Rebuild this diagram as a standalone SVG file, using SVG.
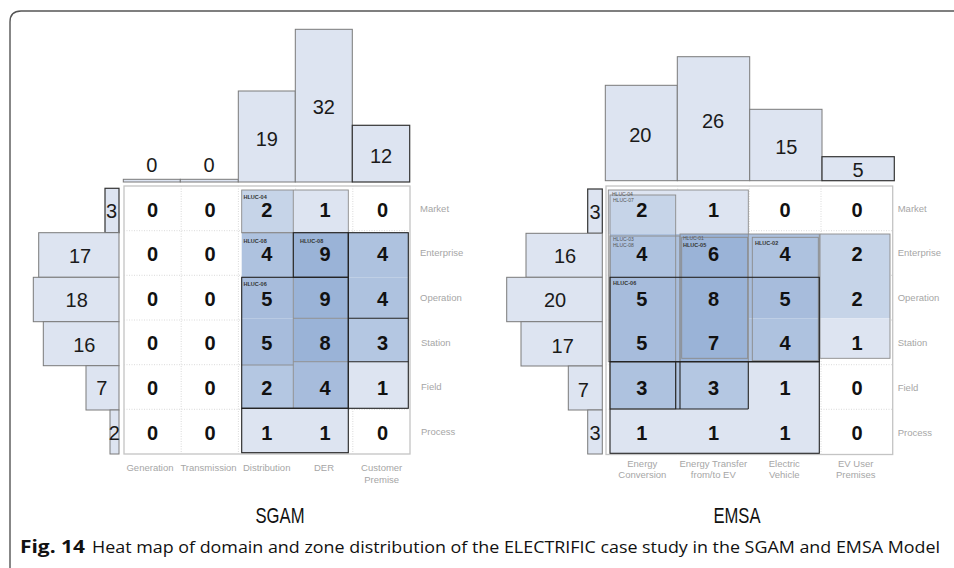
<svg xmlns="http://www.w3.org/2000/svg" width="954" height="568" viewBox="0 0 954 568">
  <style>
    .bar { fill: #dde4f1; stroke: #7a7a7a; stroke-width: 1; }
    .bar-dark { fill: #dde4f1; stroke: #333; stroke-width: 1.2; }
    .barlbl { font-family: "Liberation Sans", Arial, sans-serif; font-size: 20px; fill: #1a1a1a; text-anchor: middle; }
    .num { font-family: "Liberation Sans", Arial, sans-serif; font-size: 20px; font-weight: bold; fill: #111; text-anchor: middle; }
    .axis { font-family: "Liberation Sans", Arial, sans-serif; font-size: 9.5px; fill: #a6a6a6; }
    .axis-c { font-family: "Liberation Sans", Arial, sans-serif; font-size: 9.5px; fill: #a6a6a6; text-anchor: middle; }
    .tag { font-family: "Liberation Sans", Arial, sans-serif; font-size: 5.5px; font-weight: bold; fill: #333; }
    .tag-faint { font-family: "Liberation Sans", Arial, sans-serif; font-size: 5px; fill: #555; }
    .grid { fill: #fff; stroke: #c4c4c4; stroke-width: 1.3; }
    .dot { stroke: #d0d0d0; stroke-width: 0.8; stroke-dasharray: 1 1.5; fill: none; }
    .ol-g { fill: none; stroke: #8a8a8a; stroke-width: 0.9; }
    .ol-k { fill: none; stroke: #222; stroke-width: 1.1; }
    .title { font-family: "Liberation Sans", Arial, sans-serif; font-size: 22px; fill: #111; text-anchor: middle; }
    .cap { font-family: "Open Sans", "Liberation Sans", sans-serif; font-size: 17px; fill: #111; }
    .c1 { fill: #dde4f1; }
    .c2 { fill: #c6d4e8; }
    .c3 { fill: #b4c7e2; }
    .c4 { fill: #aec2df; }
    .c5 { fill: #a7bcdc; }
    .c8 { fill: #9ab3d7; }
  </style>

  <!-- figure frame (open to the right and bottom) -->
  <path d="M10,568 V22 Q10,11 21,11 H954" fill="none" stroke="#555" stroke-width="1.4"/>

  <!-- ================= SGAM ================= -->
  <g id="sgam">
    <!-- domain totals -->
    <g id="sgam-domain-bars">
      <rect class="bar" x="123.3" y="179.3" width="57" height="2.7"/>
      <rect class="bar" x="180.3" y="179.3" width="58" height="2.7"/>
      <rect class="bar" x="238.3" y="91" width="57" height="91"/>
      <rect class="bar" x="295.3" y="29.3" width="57" height="152.7"/>
      <rect class="bar-dark" x="352.3" y="125.3" width="57.4" height="56.7"/>
      <text class="barlbl" x="151.7" y="171.7">0</text>
      <text class="barlbl" x="209" y="171.7">0</text>
      <text class="barlbl" x="266.8" y="145.7">19</text>
      <text class="barlbl" x="323.8" y="114">32</text>
      <text class="barlbl" x="381" y="163.3">12</text>
    </g>
    <!-- zone totals -->
    <g id="sgam-zone-bars">
      <rect class="bar-dark" x="105" y="188.3" width="14" height="44.4"/>
      <rect class="bar" x="38.7" y="232.7" width="80.3" height="44.6"/>
      <rect class="bar" x="33.3" y="277.3" width="85.7" height="44.4"/>
      <rect class="bar" x="43.3" y="321.7" width="75.7" height="44"/>
      <rect class="bar" x="86" y="365.7" width="33" height="44.3"/>
      <rect class="bar" x="110" y="410" width="9" height="44"/>
      <text class="barlbl" x="111.5" y="218.3">3</text>
      <text class="barlbl" x="80" y="262.7">17</text>
      <text class="barlbl" x="76.7" y="306.7">18</text>
      <text class="barlbl" x="84.3" y="351.7">16</text>
      <text class="barlbl" x="101.7" y="395">7</text>
      <text class="barlbl" x="114.3" y="440">2</text>
    </g>
    <!-- plane grid -->
    <g id="sgam-grid">
      <rect class="grid" x="124" y="186" width="286" height="268"/>
      <path class="dot" d="M181.2,186V454M238.4,186V454M295.6,186V454M352.8,186V454M124,230.7H410M124,275.3H410M124,320H410M124,364.7H410M124,409.3H410"/>
    </g>
    <!-- heat cells -->
    <g id="sgam-heat">
      <rect class="c2" x="241.7" y="190" width="51.6" height="42.7"/>
      <rect class="c1" x="293.3" y="190" width="55" height="42.7"/>
      <rect class="c4" x="241.7" y="232.7" width="51.6" height="44.6"/>
      <rect class="c8" x="293.3" y="232.7" width="55" height="44.6"/>
      <rect class="c4" x="348.3" y="232.7" width="60" height="44.6"/>
      <rect class="c5" x="241.7" y="277.3" width="51.6" height="41"/>
      <rect class="c8" x="293.3" y="277.3" width="55" height="41"/>
      <rect class="c4" x="348.3" y="277.3" width="60" height="41"/>
      <rect class="c5" x="241.7" y="318.3" width="51.6" height="46.7"/>
      <rect class="c8" x="293.3" y="318.3" width="55" height="43.4"/>
      <rect class="c3" x="348.3" y="318.3" width="60" height="43.4"/>
      <rect class="c3" x="241.7" y="365" width="51.6" height="43.3"/>
      <rect class="c5" x="293.3" y="361.7" width="55" height="46.6"/>
      <rect class="c1" x="348.3" y="361.7" width="60" height="46.6"/>
      <rect class="c1" x="241.7" y="408.3" width="106.6" height="44.4"/>
      <!-- use-case outlines -->
      <rect class="ol-g" x="241.7" y="190" width="106.6" height="42.7"/>
      <path class="ol-g" d="M293.3,190V408.3M241.7,232.7H293.3M293.3,318.3H348.3M293.3,361.7H348.3M241.7,365H293.3"/>
      <rect class="ol-k" x="293.3" y="232.7" width="55" height="44.6"/>
      <rect class="ol-k" x="348.3" y="232.7" width="60" height="175.6"/>
      <path class="ol-k" d="M348.3,318.3H408.3M348.3,361.7H408.3"/>
      <rect class="ol-k" x="241.7" y="277.3" width="106.6" height="131"/>
      <rect class="ol-k" x="241.7" y="408.3" width="106.6" height="44.4"/>
      <text class="tag" x="243.5" y="198.5">HLUC-04</text>
      <text class="tag" x="243.5" y="242.5">HLUC-08</text>
      <text class="tag" x="300" y="242.5">HLUC-08</text>
      <text class="tag" x="243.5" y="286">HLUC-06</text>
    </g>
    <!-- cell counts -->
    <g id="sgam-counts">
      <text class="num" x="152.5" y="216.5">0</text><text class="num" x="210" y="216.5">0</text><text class="num" x="266.7" y="216.5">2</text><text class="num" x="325" y="216.5">1</text><text class="num" x="382.5" y="216.5">0</text>
      <text class="num" x="152.5" y="261">0</text><text class="num" x="210" y="261">0</text><text class="num" x="266.7" y="261">4</text><text class="num" x="325" y="261">9</text><text class="num" x="382.5" y="261">4</text>
      <text class="num" x="152.5" y="305.7">0</text><text class="num" x="210" y="305.7">0</text><text class="num" x="266.7" y="305.7">5</text><text class="num" x="325" y="305.7">9</text><text class="num" x="382.5" y="305.7">4</text>
      <text class="num" x="152.5" y="350.3">0</text><text class="num" x="210" y="350.3">0</text><text class="num" x="266.7" y="350.3">5</text><text class="num" x="325" y="350.3">8</text><text class="num" x="382.5" y="350.3">3</text>
      <text class="num" x="152.5" y="395">0</text><text class="num" x="210" y="395">0</text><text class="num" x="266.7" y="395">2</text><text class="num" x="325" y="395">4</text><text class="num" x="382.5" y="395">1</text>
      <text class="num" x="152.5" y="440">0</text><text class="num" x="210" y="440">0</text><text class="num" x="266.7" y="440">1</text><text class="num" x="325" y="440">1</text><text class="num" x="382.5" y="440">0</text>
    </g>
    <!-- axis labels -->
    <g id="sgam-axes">
      <text class="axis" x="420" y="211.5">Market</text>
      <text class="axis" x="420" y="256">Enterprise</text>
      <text class="axis" x="420" y="300.5">Operation</text>
      <text class="axis" x="421" y="345.5">Station</text>
      <text class="axis" x="421" y="390">Field</text>
      <text class="axis" x="421" y="435">Process</text>
      <text class="axis-c" x="150" y="470.8">Generation</text>
      <text class="axis-c" x="208.5" y="470.8">Transmission</text>
      <text class="axis-c" x="266.7" y="470.8">Distribution</text>
      <text class="axis-c" x="324" y="470.8">DER</text>
      <text class="axis-c" x="381.7" y="470.8">Customer</text>
      <text class="axis-c" x="381.7" y="483">Premise</text>
    </g>
    <text class="title" x="280" y="523" textLength="49" lengthAdjust="spacingAndGlyphs">SGAM</text>
  </g>

  <!-- ================= EMSA ================= -->
  <g id="emsa">
    <g id="emsa-domain-bars">
      <rect class="bar" x="605.3" y="85.3" width="72" height="95.4"/>
      <rect class="bar" x="677.3" y="56.7" width="72.4" height="124"/>
      <rect class="bar" x="749.7" y="109.3" width="72.3" height="71.4"/>
      <rect class="bar-dark" x="822" y="156.7" width="72.3" height="24"/>
      <text class="barlbl" x="640.3" y="141.7">20</text>
      <text class="barlbl" x="713" y="127.7">26</text>
      <text class="barlbl" x="786.3" y="154">15</text>
      <text class="barlbl" x="858" y="177.3">5</text>
    </g>
    <g id="emsa-zone-bars">
      <rect class="bar-dark" x="587.7" y="189" width="14.6" height="44.3"/>
      <rect class="bar" x="526" y="233.3" width="76.3" height="44"/>
      <rect class="bar" x="506.7" y="277.3" width="95.6" height="44.4"/>
      <rect class="bar" x="521" y="321.7" width="81.3" height="44.3"/>
      <rect class="bar" x="568.3" y="366" width="34" height="44"/>
      <rect class="bar" x="587.7" y="410" width="14.6" height="44"/>
      <text class="barlbl" x="595" y="218.5">3</text>
      <text class="barlbl" x="565" y="263.3">16</text>
      <text class="barlbl" x="555" y="307.3">20</text>
      <text class="barlbl" x="562.7" y="352.7">17</text>
      <text class="barlbl" x="583.3" y="396.7">7</text>
      <text class="barlbl" x="595" y="440">3</text>
    </g>
    <g id="emsa-grid">
      <rect class="grid" x="606" y="186" width="286.7" height="268.5"/>
      <path class="dot" d="M677.7,186V454.5M749.3,186V454.5M821,186V454.5M606,230.7H892.7M606,275.3H892.7M606,320H892.7M606,364.7H892.7M606,409.3H892.7"/>
    </g>
    <g id="emsa-heat">
      <rect class="c1" x="608.3" y="190" width="140" height="44"/>
      <rect class="c2" x="610" y="195" width="65.7" height="39"/>
      <rect class="c4" x="610" y="234" width="70" height="43.3"/>
      <rect class="c8" x="680" y="234" width="68.3" height="43.3"/>
      <rect class="c4" x="748.3" y="234" width="71" height="43.3"/>
      <rect class="c2" x="820" y="234" width="70" height="84.3"/>
      <rect class="c5" x="610" y="277.3" width="70" height="84.4"/>
      <rect class="c8" x="680" y="277.3" width="68.3" height="84.4"/>
      <rect class="c5" x="748.3" y="277.3" width="71" height="41"/>
      <rect class="c4" x="748.3" y="318.3" width="71" height="43.4"/>
      <rect class="c1" x="820" y="318.3" width="70" height="40"/>
      <rect class="c4" x="610" y="361.7" width="70" height="47.3"/>
      <rect class="c3" x="680" y="361.7" width="68.3" height="47.3"/>
      <rect class="c1" x="748.3" y="361.7" width="71" height="47.3"/>
      <rect class="c1" x="610" y="409" width="209.3" height="44.3"/>
      <!-- use-case outlines -->
      <rect class="ol-g" x="608.3" y="190" width="140" height="171.7"/>
      <rect class="ol-g" x="610" y="195" width="65.7" height="214"/>
      <rect class="ol-g" x="610" y="236" width="70" height="125.7"/>
      <rect class="ol-g" x="680" y="234" width="139.3" height="127.7"/>
      <rect class="ol-g" x="681.7" y="237.3" width="66" height="121"/>
      <rect class="ol-g" x="752.3" y="237.3" width="66" height="123.4"/>
      <rect class="ol-g" x="820" y="234" width="70" height="124.3"/>
      <rect class="ol-k" x="610" y="277.3" width="209.3" height="84.4"/>
      <rect class="ol-k" x="610" y="361.7" width="209.3" height="91.6"/>
      <path class="ol-k" d="M610,409H748.3M675.7,361.7V409M680,361.7V409M748.3,361.7V409"/>
      <text class="tag-faint" x="612" y="196">HLUC-04</text>
      <text class="tag-faint" x="613" y="202">HLUC-07</text>
      <text class="tag-faint" x="613" y="240.5">HLUC-03</text>
      <text class="tag-faint" x="613" y="246.5">HLUC-08</text>
      <text class="tag-faint" x="683" y="240">HLUC-01</text>
      <text class="tag" x="683" y="246.5">HLUC-05</text>
      <text class="tag" x="755" y="245">HLUC-02</text>
      <text class="tag" x="613" y="285">HLUC-06</text>
    </g>
    <g id="emsa-counts">
      <text class="num" x="641.7" y="216.5">2</text><text class="num" x="713.5" y="216.5">1</text><text class="num" x="785" y="216.5">0</text><text class="num" x="857" y="216.5">0</text>
      <text class="num" x="641.7" y="261">4</text><text class="num" x="713.5" y="261">6</text><text class="num" x="785" y="261">4</text><text class="num" x="857" y="261">2</text>
      <text class="num" x="641.7" y="305.7">5</text><text class="num" x="713.5" y="305.7">8</text><text class="num" x="785" y="305.7">5</text><text class="num" x="857" y="305.7">2</text>
      <text class="num" x="641.7" y="350.3">5</text><text class="num" x="713.5" y="350.3">7</text><text class="num" x="785" y="350.3">4</text><text class="num" x="857" y="350.3">1</text>
      <text class="num" x="641.7" y="395">3</text><text class="num" x="713.5" y="395">3</text><text class="num" x="785" y="395">1</text><text class="num" x="857" y="395">0</text>
      <text class="num" x="641.7" y="440">1</text><text class="num" x="713.5" y="440">1</text><text class="num" x="785" y="440">1</text><text class="num" x="857" y="440">0</text>
    </g>
    <g id="emsa-axes">
      <text class="axis" x="897.7" y="211.5">Market</text>
      <text class="axis" x="897.7" y="256">Enterprise</text>
      <text class="axis" x="897.7" y="300.5">Operation</text>
      <text class="axis" x="897.7" y="345.5">Station</text>
      <text class="axis" x="897.7" y="390.5">Field</text>
      <text class="axis" x="897.7" y="435.5">Process</text>
      <text class="axis-c" x="642.3" y="466.5">Energy</text>
      <text class="axis-c" x="642.3" y="478.3">Conversion</text>
      <text class="axis-c" x="713.3" y="466.5">Energy Transfer</text>
      <text class="axis-c" x="713.3" y="478.3">from/to EV</text>
      <text class="axis-c" x="784.3" y="466.5">Electric</text>
      <text class="axis-c" x="784.3" y="478.3">Vehicle</text>
      <text class="axis-c" x="855.7" y="466.5">EV User</text>
      <text class="axis-c" x="855.7" y="478.3">Premises</text>
    </g>
    <text class="title" x="737" y="523" textLength="47" lengthAdjust="spacingAndGlyphs">EMSA</text>
  </g>

  <!-- caption -->
  <g id="caption">
    <text class="cap" x="20" y="553" font-weight="bold" textLength="65" lengthAdjust="spacingAndGlyphs">Fig. 14</text>
    <text class="cap" x="92" y="553" textLength="848" lengthAdjust="spacingAndGlyphs">Heat map of domain and zone distribution of the ELECTRIFIC case study in the SGAM and EMSA Model</text>
  </g>
</svg>
